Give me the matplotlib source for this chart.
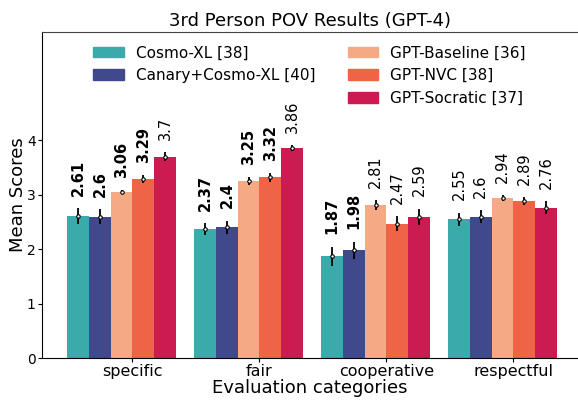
import matplotlib
matplotlib.use("Agg")
import matplotlib.pyplot as plt
import numpy as np
from matplotlib.patches import Patch

categories = ["specific", "fair", "cooperative", "respectful"]
models = ["Cosmo-XL [38]", "Canary+Cosmo-XL [40]", "GPT-Baseline [36]", "GPT-NVC [38]", "GPT-Socratic [37]"]
colors = ["#3AAAAB", "#40498C", "#F5AA85", "#EF6346", "#CB1B50"]

means = [
    [2.61, 2.37, 1.87, 2.55],
    [2.60, 2.40, 1.98, 2.60],
    [3.06, 3.25, 2.81, 2.94],
    [3.29, 3.32, 2.47, 2.89],
    [3.70, 3.86, 2.59, 2.76],
]
errors = [
    [0.14, 0.11, 0.18, 0.12],
    [0.135, 0.12, 0.16, 0.12],
    [0.02, 0.07, 0.09, 0.05],
    [0.07, 0.08, 0.14, 0.07],
    [0.08, 0.05, 0.15, 0.12],
]
bold = [
    [True, True, True, False],
    [True, True, True, False],
    [True, True, False, False],
    [True, True, False, False],
    [False, False, False, False],
]

fig = plt.figure(figsize=(5.78, 4.01), dpi=100)
ax = fig.add_axes([42/578, 43/401, 536/578, 326.3/401])

w = 0.171
x = np.arange(len(categories))
for j, m in enumerate(models):
    pos = x + (j - 2) * w
    ax.bar(pos, means[j], width=w, color=colors[j], label=m)
    ax.errorbar(pos, means[j], yerr=errors[j], fmt='o', color='black',
                ms=2.5, mfc='white', mec='black', mew=0.8, elinewidth=1.3, capsize=0)
    for k in range(len(categories)):
        ax.annotate(f"{means[j][k]:g}", (pos[k], means[j][k] + errors[j][k]),
                    xytext=(0, 9), textcoords='offset points', rotation=90,
                    ha='center', va='bottom', fontsize=10.5,
                    fontweight='bold' if bold[j][k] else 'normal')

ax.set_xticks(x + 0.5 * w)
ax.set_xticklabels(categories, fontsize=11.5)
ax.set_xlim(-0.627, 3.594)
ax.set_ylim(0, 6)
ax.set_yticks([0, 1, 2, 3, 4])
ax.tick_params(axis='y', labelsize=10, length=3, pad=1.5)
ax.tick_params(axis='x', length=3, pad=1.5)
ax.set_ylabel("Mean Scores", fontsize=13, labelpad=0)
ax.set_xlabel("Evaluation categories", fontsize=13, labelpad=0)
ax.set_title("3rd Person POV Results (GPT-4)", fontsize=13, pad=4)
ax.spines['right'].set_visible(False)
ax.spines['top'].set_color('#444444')

handles = [Patch(color=colors[0]), Patch(color=colors[1]), Patch(color='none'),
           Patch(color=colors[2]), Patch(color=colors[3]), Patch(color=colors[4])]
labels = [models[0], models[1], "", models[2], models[3], models[4]]
ax.legend(handles, labels, ncol=2, frameon=False, fontsize=11,
          loc='upper left', bbox_to_anchor=(0.07, 1.0), handlelength=2.0,
          handletextpad=0.8, columnspacing=2.1, labelspacing=0.5)

fig.savefig("out.png", dpi=100)
